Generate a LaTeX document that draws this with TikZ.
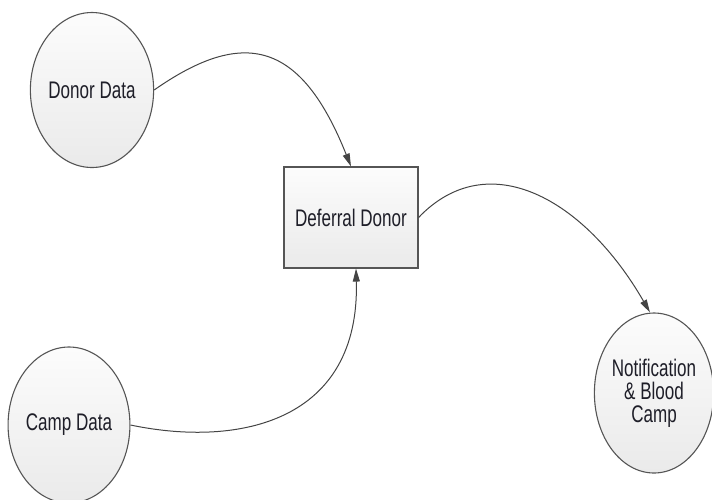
\documentclass[tikz,border=0pt]{standalone}
\usepackage{fontspec}
\usepackage{xcolor}
\usepackage{tikz}
\usetikzlibrary{arrows.meta,positioning,shapes.geometric}
\newfontfamily\diafont{Liberation Sans}[FakeStretch=0.71]
\definecolor{ink}{HTML}{1E1E28}
\definecolor{edge}{HTML}{555555}
\definecolor{wire}{HTML}{444444}
\definecolor{shadehi}{HTML}{FCFCFC}
\definecolor{shadelo}{HTML}{EAEAEA}
\begin{document}
\begin{tikzpicture}[
  on grid,
  every node/.style={font=\diafont\fontsize{24}{23}\selectfont,text=ink},
  store/.style={ellipse,draw=edge,line width=1.1pt,top color=shadehi,bottom color=shadelo,minimum width=108pt,minimum height=155pt,inner sep=0pt,align=center},
  process/.style={rectangle,draw=edge,line width=1.1pt,top color=shadehi,bottom color=shadelo,minimum width=134pt,minimum height=101pt,align=center},
  flow/.style={-{Triangle[length=13pt,width=7pt,fill=wire]},line width=1pt,draw=wire}
]
\useasboundingbox (0,0) rectangle (712pt,-499pt);
\node[store] (donor) at (92pt,-90pt) {Donor Data};
\node[process,below right=127.5pt and 259pt of donor] (deferral) {Deferral Donor};
\node[store,minimum width=112pt,minimum height=156pt,below left=335pt and 23pt of donor] (camp) {Camp Data};
\node[store,minimum width=98pt,minimum height=160pt,below right=175.5pt and 303pt of deferral] (notify) {Notification\\\& Blood\\Camp};
\draw[flow] (donor.east) .. controls +(90pt,63pt) and +(-50pt,125pt) .. (deferral.north);
\draw[flow] (camp.east) .. controls +(110pt,-23pt) and +(4pt,-152pt) .. ([xshift=5pt]deferral.south);
\draw[flow] (deferral.east) .. controls +(70pt,73pt) and +(-65pt,113pt) .. ([xshift=-4pt]notify.north);
\end{tikzpicture}
\end{document}
